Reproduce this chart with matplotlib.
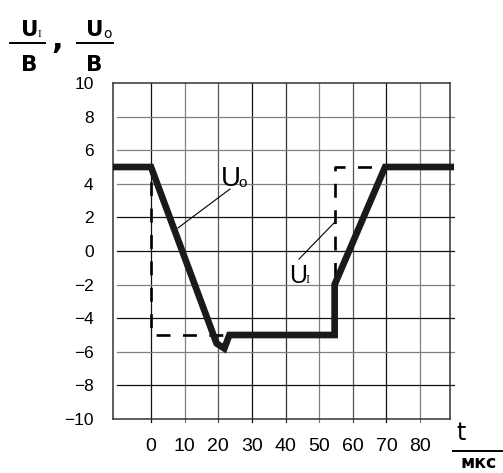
from matplotlib import pyplot as plt
from matplotlib.lines import Line2D
import numpy as np

# waveform data (time in мкс, voltage in В)
t_out = [-11.3, 0, 19.5, 21.8, 23.3, 54.6, 54.6, 69.6, 90.1]
u_out = [5, 5, -5.5, -5.8, -5.0, -5.0, -2.0, 5, 5]

t_in = [-11.3, 0, 0, 54.7, 54.7, 69.6, 90.1]
u_in = [5, 5, -5, -5, 5, 5, 5]

x_ticks = [0, 10, 20, 30, 40, 50, 60, 70, 80]
y_ticks = [-10, -8, -6, -4, -2, 0, 2, 4, 6, 8, 10]

# grid shades (mixed black / gray like the scanned original)
vgrid_col = ['#111111', '#808080', '#555555', '#111111', '#333333',
             '#808080', '#555555', '#111111', '#808080']
hgrid_y = [-8, -6, -4, -2, 0, 2, 4, 6, 8]
hgrid_col = ['#111111', '#808080', '#111111', '#808080', '#111111',
             '#111111', '#808080', '#808080', '#808080']

W, H = 503, 473
fig = plt.figure(figsize=(W / 100, H / 100), dpi=100)


def px(x, y):
	return x / W, 1 - y / H


ax = fig.add_axes([113 / W, 1 - 419 / H, (450 - 113) / W, (419 - 83) / H])
ax.set_xlim(-11.3, 88.9)
ax.set_ylim(-10, 10)

for x, c in zip(x_ticks, vgrid_col):
	ax.axvline(x, ymin=-0.01, ymax=1, color=c, lw=0.9, clip_on=False, zorder=1)
for y, c in zip(hgrid_y, hgrid_col):
	ax.axhline(y, xmin=0.012, xmax=1.012, color=c, lw=0.9, clip_on=False, zorder=1)

for s in ax.spines.values():
	s.set_color('#333333')
	s.set_linewidth(1.1)

plt.rcParams['lines.scale_dashes'] = False
ax.plot(t_in, u_in, color='black', lw=1.9, dashes=(10, 9), zorder=3,
        solid_capstyle='butt', clip_on=False)
ax.plot(t_out, u_out, color='#1a1a1a', lw=4.8, zorder=4,
        solid_joinstyle='miter', solid_capstyle='butt', clip_on=False)

# leader lines to labels
ax.plot([23.5, 8.0], [3.69, 1.37], color='black', lw=0.8, zorder=5)
ax.plot([44.0, 54.7], [-0.48, 1.73], color='black', lw=0.8, zorder=5)

ax.set_xticks(x_ticks)
ax.set_yticks(y_ticks)
ax.tick_params(length=0)
ax.tick_params(axis='x', pad=14, labelsize=14)
ax.tick_params(axis='y', pad=14, labelsize=12.5)
for lab in ax.get_xticklabels() + ax.get_yticklabels():
	lab.set_family('Liberation Sans')

narrow = ['Liberation Sans Narrow', 'Liberation Sans']
# curve labels
fig.text(*px(221, 186), 'U', fontsize=20, family=narrow, ha='left', va='baseline')
fig.text(*px(238.5, 187), 'o', fontsize=11, family='Liberation Sans', ha='left', va='baseline')
fig.text(*px(289, 283), 'U', fontsize=18, family=narrow, ha='left', va='baseline')
fig.text(*px(306, 283), 'I', fontsize=9, family='Liberation Serif', ha='left', va='baseline')

# axis header  U_I/B , U_O/B
hdr = 'DejaVu Sans'
fig.text(*px(29.5, 36.5), 'U', fontsize=15.5, family=hdr, weight='bold', ha='center', va='baseline')
fig.text(*px(38, 37), 'I', fontsize=8, family='Liberation Serif', ha='left', va='baseline')
fig.text(*px(29.5, 71), 'B', fontsize=15.5, family=hdr, weight='bold', ha='center', va='baseline')
fig.text(*px(94.5, 36.5), 'U', fontsize=15.5, family=hdr, weight='bold', ha='center', va='baseline')
fig.text(*px(103, 37.5), 'o', fontsize=10, family=hdr, ha='left', va='baseline')
fig.text(*px(94.5, 71), 'B', fontsize=15.5, family=hdr, weight='bold', ha='center', va='baseline')
fig.text(*px(57, 49), ',', fontsize=22, family=hdr, weight='bold', ha='center', va='baseline')
for x0, x1 in [(10, 45), (77, 113)]:
	fig.add_artist(Line2D([x0 / W, x1 / W], [1 - 43 / H] * 2, color='black', lw=1.4))

# x unit label  t / мкс
fig.text(*px(461.5, 440), 't', fontsize=17, family=hdr, ha='center', va='baseline')
fig.add_artist(Line2D([453 / W, 1.0], [1 - 451 / H] * 2, color='black', lw=1.4))
fig.text(*px(461, 472), 'мкс', fontsize=12.5, family=hdr, weight='bold', ha='left', va='bottom')

fig.savefig('out.png', dpi=100)
